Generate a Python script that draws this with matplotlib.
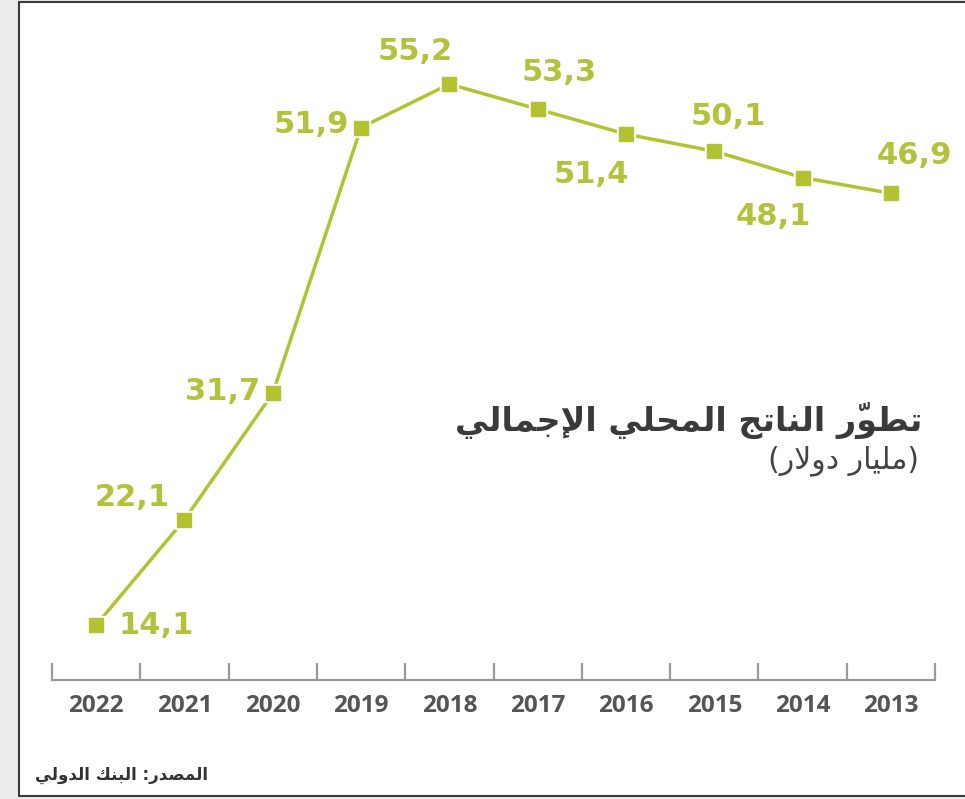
import matplotlib
matplotlib.use("Agg")
import matplotlib.pyplot as plt
from matplotlib.patches import Rectangle

# --- datos ---
anios = ["2022", "2021", "2020", "2019", "2018", "2017", "2016", "2015", "2014", "2013"]
pib = [14.1, 22.1, 31.7, 51.9, 55.2, 53.3, 51.4, 50.1, 48.1, 46.9]
etiquetas = ["14,1", "22,1", "31,7", "51,9", "55,2", "53,3", "51,4", "50,1", "48,1", "46,9"]

titulo = "تطوّر الناتج المحلي الإجمالي"
subtitulo = "(مليار دولار)"
fuente = "المصدر: البنك الدولي"

# posiciones de las etiquetas (pixeles respecto al punto) y alineacion
offsets = [(22, -1), (-15, 22), (-13, 2), (-12, 3), (-34, 33),
           (22, 37), (-35, -40), (14, 35), (-29, -39), (24, 38)]
alineacion = ["left", "right", "right", "right", "center",
              "center", "center", "center", "center", "center"]

VERDE = "#b2c230"
VERDE_TXT = "#b3c23a"

# --- formas de presentacion arabes (aislada, final, inicial, media) ---
FORMAS = {
    "ا": (0xFE8D, 0xFE8E, None, None),
    "إ": (0xFE87, 0xFE88, None, None),
    "أ": (0xFE83, 0xFE84, None, None),
    "ب": (0xFE8F, 0xFE90, 0xFE91, 0xFE92),
    "ت": (0xFE95, 0xFE96, 0xFE97, 0xFE98),
    "ج": (0xFE9D, 0xFE9E, 0xFE9F, 0xFEA0),
    "ح": (0xFEA1, 0xFEA2, 0xFEA3, 0xFEA4),
    "د": (0xFEA9, 0xFEAA, None, None),
    "ر": (0xFEAD, 0xFEAE, None, None),
    "ص": (0xFEB9, 0xFEBA, 0xFEBB, 0xFEBC),
    "ط": (0xFEC1, 0xFEC2, 0xFEC3, 0xFEC4),
    "ك": (0xFED9, 0xFEDA, 0xFEDB, 0xFEDC),
    "ل": (0xFEDD, 0xFEDE, 0xFEDF, 0xFEE0),
    "م": (0xFEE1, 0xFEE2, 0xFEE3, 0xFEE4),
    "ن": (0xFEE5, 0xFEE6, 0xFEE7, 0xFEE8),
    "و": (0xFEED, 0xFEEE, None, None),
    "ي": (0xFEF1, 0xFEF2, 0xFEF3, 0xFEF4),
}
LAM_ALEF = {"ا": (0xFEFB, 0xFEFC), "إ": (0xFEF9, 0xFEFA), "أ": (0xFEF7, 0xFEF8)}
MARCAS = "\u064B\u064C\u064D\u064E\u064F\u0650\u0651\u0652"


def arabe(texto):
    grupos = []
    for ch in texto:
        if ch in MARCAS and grupos:
            grupos[-1][1] += ch
        else:
            grupos.append([ch, ""])
    unidos = []
    i = 0
    while i < len(grupos):
        b, m = grupos[i]
        if b == "ل" and i + 1 < len(grupos) and grupos[i + 1][0] in LAM_ALEF:
            unidos.append(["LA" + grupos[i + 1][0], m + grupos[i + 1][1]])
            i += 2
        else:
            unidos.append([b, m])
            i += 1

    def une_izq(b):
        return b in FORMAS and FORMAS[b][2] is not None

    def es_letra(b):
        return b in FORMAS or b.startswith("LA")

    res = []
    for k, (b, m) in enumerate(unidos):
        prev = unidos[k - 1][0] if k > 0 else None
        sig = unidos[k + 1][0] if k + 1 < len(unidos) else None
        p = prev is not None and une_izq(prev)
        if b.startswith("LA"):
            iso, fin = LAM_ALEF[b[2]]
            res.append(m + chr(fin if p else iso))
            continue
        if b not in FORMAS:
            res.append(m + b)
            continue
        iso, fin, ini, med = FORMAS[b]
        n = ini is not None and sig is not None and es_letra(sig)
        g = med if (p and n) else fin if p else ini if n else iso
        # la marca va antes de la letra para que caiga encima de ella
        res.append(m + chr(g))
    espejo = {"(": ")", ")": "("}
    return "".join(espejo.get(r, r) for r in res[::-1])


# --- figura ---
W, H = 965, 799
fig = plt.figure(figsize=(W / 100, H / 100), dpi=100)
fig.patch.set_facecolor("#ececec")
fig.patches.append(Rectangle((19 / W, 1 - 796 / H), 1.0, (796 - 2) / H,
                             transform=fig.transFigure, facecolor="white",
                             edgecolor="#3c3c3c", linewidth=1.5, zorder=-5))

ax = fig.add_axes([52 / W, 1 - 680 / H, (935 - 52) / W, 660 / H])
ax.patch.set_alpha(0)
x = list(range(len(anios)))
ax.plot(x, pib, color=VERDE, linewidth=2.5, zorder=2, solid_capstyle="butt")
ax.plot(x, pib, linestyle="none", marker="s", markersize=13.5,
        color="white", zorder=3)
ax.plot(x, pib, linestyle="none", marker="s", markersize=9.5,
        color=VERDE, zorder=4)

for xi, yi, t, off, ha in zip(x, pib, etiquetas, offsets, alineacion):
    ax.annotate(t, (xi, yi), xytext=off, textcoords="offset pixels",
                ha=ha, va="center", fontsize=22, fontweight="bold",
                color=VERDE_TXT, family="DejaVu Sans", zorder=5)

ax.set_xlim(-0.5, len(anios) - 0.5)
ax.set_ylim(9.92, 60.07)
for s in ["top", "left", "right"]:
    ax.spines[s].set_visible(False)
ax.spines["bottom"].set_color("#9a9a9a")
ax.spines["bottom"].set_linewidth(1.6)
ax.set_yticks([])
ax.set_xticks(x)
ax.set_xticklabels(anios, fontsize=17.5, fontweight="bold", color="#555555",
                   family="Open Sans")
ax.set_xticks([i - 0.5 for i in range(len(anios) + 1)], minor=True)
ax.tick_params(axis="x", which="major", length=0, pad=10)
ax.tick_params(axis="x", which="minor", direction="in", length=12,
               width=1.6, color="#9a9a9a")

# --- textos ---
fig.text(922 / W, 1 - 420 / H, arabe(titulo), ha="right", va="center",
         fontsize=24, fontweight="bold", color="#3a3a3a", family="DejaVu Sans")
fig.text(919 / W, 1 - 461 / H, arabe(subtitulo), ha="right", va="center",
         fontsize=21.5, color="#444444", family="DejaVu Sans")
fig.text(35 / W, 1 - 775 / H, arabe(fuente), ha="left", va="center",
         fontsize=12, fontweight="bold", color="#333333", family="DejaVu Sans")

fig.savefig("out.png", dpi=100)
